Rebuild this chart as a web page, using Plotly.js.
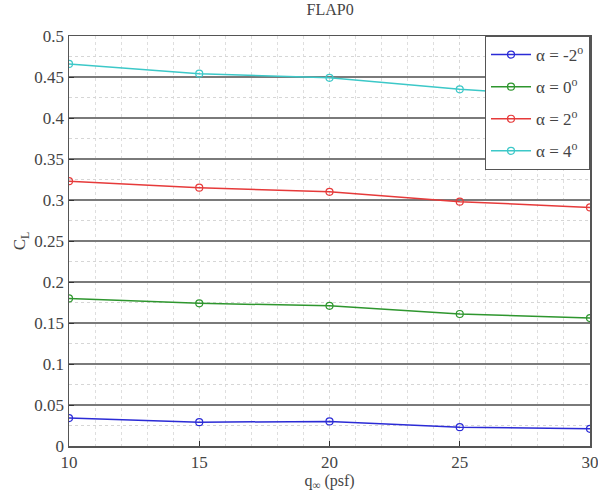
<!DOCTYPE html>
<html>
<head>
<meta charset="utf-8">
<script src="https://cdn.plot.ly/plotly-3.0.1.min.js"></script>
<style>html,body{margin:0;padding:0;background:#fff;}#chart{width:598px;height:493px;}</style>
</head>
<body>
<div id="chart"></div>
<script>
const q = [10, 15, 20, 25, 30];
const clAm2 = [0.034, 0.029, 0.030, 0.023, 0.021];
const clA0 = [0.180, 0.174, 0.171, 0.161, 0.156];
const clA2 = [0.323, 0.315, 0.310, 0.298, 0.291];
const clA4 = [0.466, 0.454, 0.449, 0.435, 0.425];
const seriesNames = ['α = -2<sup>o</sup>', 'α = 0<sup>o</sup>', 'α = 2<sup>o</sup>', 'α = 4<sup>o</sup>'];
const seriesColors = ['#2b2bd6', '#2e962e', '#e63a3a', '#3cc8c8'];
const seriesData = [clAm2, clA0, clA2, clA4];

const serif = '"Liberation Serif"';
const traces = seriesData.map((ys, i) => ({
  x: q, y: ys, name: seriesNames[i], type: 'scatter', mode: 'lines+markers',
  legendgroup: 'g' + i,
  line: {color: seriesColors[i], width: 1.5},
  marker: {symbol: 'circle-open', size: 7, color: seriesColors[i], line: {width: 1.2}}
}));

const layout = {
  width: 598, height: 493,
  margin: {l: 69, r: 8, t: 36, b: 47},
  paper_bgcolor: '#fff', plot_bgcolor: '#fff',
  title: {text: 'FLAP0', font: {family: serif, size: 16, color: '#444'}, x: 0.552, xanchor: 'center', y: 0.992, yanchor: 'top'},
  font: {family: serif, size: 16, color: '#444'},
  xaxis: {
    range: [10, 30], dtick: 5, tick0: 10,
    showgrid: true, gridcolor: '#d6d6d6', griddash: 'dot', gridwidth: 1,
    minor: {dtick: 1, showgrid: true, gridcolor: '#dedede', griddash: 'dot', gridwidth: 1},
    ticks: 'inside', ticklen: 5, tickcolor: '#333',
    ticklabeloverflow: 'allow',
    showline: true, linecolor: '#555', linewidth: 1.5, mirror: true, zeroline: false,
    tickfont: {family: serif, size: 17, color: '#444'},
    title: {text: 'q<sub>∞</sub> (psf)', font: {family: serif, size: 16, color: '#444'}, standoff: 2}
  },
  yaxis: {
    range: [0, 0.5], dtick: 0.05, tick0: 0,
    showgrid: true, gridcolor: '#7a7a7a', gridwidth: 1.2,
    minor: {dtick: 0.025, showgrid: true, gridcolor: '#d6d6d6', griddash: 'dot', gridwidth: 1},
    ticks: 'inside', ticklen: 5, tickcolor: '#333',
    ticklabeloverflow: 'allow',
    showline: true, linecolor: '#555', linewidth: 1.5, mirror: true, zeroline: false,
    tickfont: {family: serif, size: 17, color: '#444'},
    title: {text: 'C<sub>L</sub>', font: {family: serif, size: 17, color: '#444'}, standoff: 4}
  },
  legend: {
    x: 1, xanchor: 'right', y: 1, yanchor: 'top',
    bgcolor: '#fff', bordercolor: '#555', borderwidth: 1,
    font: {family: serif, size: 17, color: '#444'},
    traceorder: 'grouped', tracegroupgap: 7, itemwidth: 40
  },
  showlegend: true
};

Plotly.newPlot('chart', traces, layout, {displayModeBar: false, staticPlot: true});
</script>
</body>
</html>
